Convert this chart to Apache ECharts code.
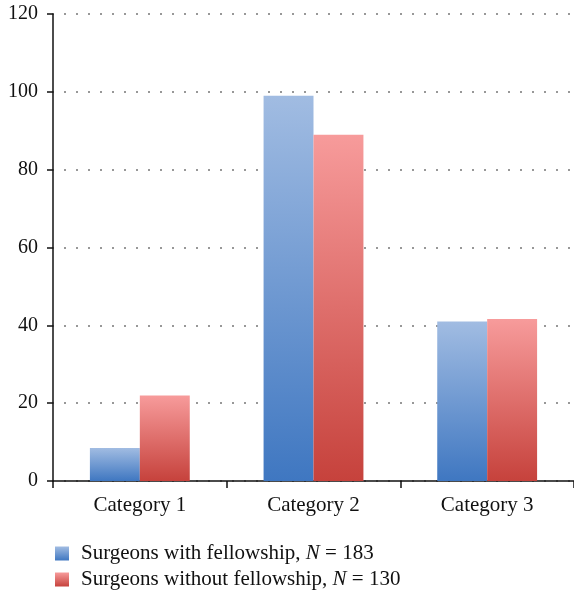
<!DOCTYPE html>
<html><head><meta charset="utf-8">
<script src="https://cdn.jsdelivr.net/npm/echarts@6/dist/echarts.min.js"></script>
<style>html,body{margin:0;padding:0;background:#fff}#c{width:574px;height:595px}</style>
</head><body><div id="c"></div>
<script>
var categories = ['Category 1', 'Category 2', 'Category 3'];
var withFellowship = [8.5, 99, 41];
var withoutFellowship = [22, 89, 41.6];
var seriesNames = ['Surgeons with fellowship, N = 183', 'Surgeons without fellowship, N = 130'];
var yTicks = {min: 0, max: 120, interval: 20};

function grad(top, bottom) {
  return new echarts.graphic.LinearGradient(0, 0, 0, 1, [{offset: 0, color: top}, {offset: 1, color: bottom}]);
}
var FONT = '"Liberation Serif", "DejaVu Serif", serif';
function legendAt(name, top) {
  return {
    orient: 'horizontal', left: 55, top: top, itemWidth: 14, itemHeight: 14, padding: 0,
    icon: 'rect',
    formatter: function (n) { return n.replace(', N', ', {i|N}'); },
    textStyle: {fontFamily: FONT, fontSize: 21, color: '#111', padding: [0, 0, 0, 7],
      rich: {i: {fontFamily: FONT, fontSize: 21, fontStyle: 'italic', color: '#111'}}},
    data: [name]
  };
}
var chart = echarts.init(document.getElementById('c'), null, {renderer: 'canvas'});
chart.setOption({
  animation: false,
  grid: {left: 53, right: 0, top: 14, bottom: 114, containLabel: false},
  legend: [legendAt(seriesNames[0], 543), legendAt(seriesNames[1], 569)],
  xAxis: {
    type: 'category', data: categories,
    axisLine: {lineStyle: {color: '#111', width: 1.5}},
    axisTick: {show: true, length: 7, lineStyle: {color: '#111', width: 1.5}},
    axisLabel: {fontFamily: FONT, fontSize: 21, color: '#111', margin: 14}
  },
  yAxis: {
    type: 'value', min: yTicks.min, max: yTicks.max, interval: yTicks.interval,
    axisLine: {show: true, lineStyle: {color: '#111', width: 1.5}},
    axisTick: {show: true, length: 6, lineStyle: {color: '#111', width: 1.5}},
    axisLabel: {fontFamily: FONT, fontSize: 20, color: '#111', margin: 15},
    splitLine: {show: true, lineStyle: {color: '#777', width: 1.5, type: [2, 10], dashOffset: 1}}
  },
  series: [
    {name: seriesNames[0], type: 'bar', data: withFellowship, barGap: '0%', barCategoryGap: '42.5%',
     itemStyle: {color: grad('#a1bce2', '#3f77c1')}},
    {name: seriesNames[1], type: 'bar', data: withoutFellowship, barGap: '0%', barCategoryGap: '42.5%',
     itemStyle: {color: grad('#f79b9b', '#c6423c')}}
  ]
});
</script></body></html>
